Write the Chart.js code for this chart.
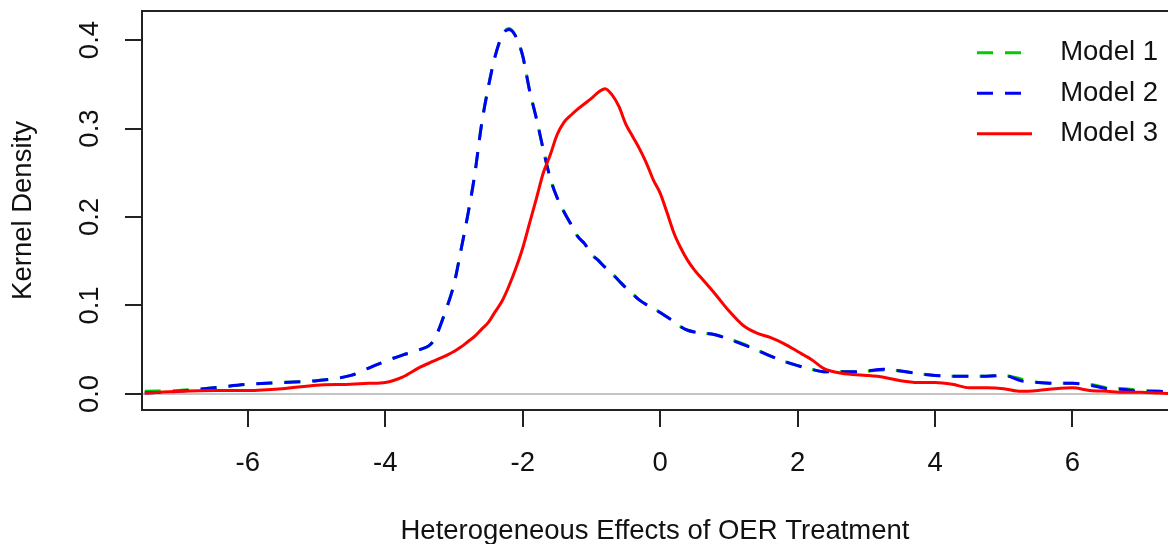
<!DOCTYPE html>
<html>
<head>
<meta charset="utf-8">
<script src="https://cdn.jsdelivr.net/npm/chart.js@4/dist/chart.umd.min.js"></script>
<style>
  html, body { margin: 0; padding: 0; background: #fff; overflow: hidden; }
  #wrap { width: 1168px; height: 544px; }
</style>
</head>
<body>
<div id="wrap"><canvas id="grafico" width="1168" height="544"></canvas></div>
<script>
// puntos x (grilla comun para las tres curvas)
const xGrid = [
  -7.5, -7.0, -6.5, -6.0, -5.5, -5.0, -4.5, -4.25, -4.0, -3.75, -3.5, -3.3, -3.1,
  -3.0, -2.9, -2.8, -2.7, -2.6, -2.5, -2.4, -2.3, -2.2, -2.1, -2.0, -1.9, -1.8,
  -1.7, -1.6, -1.5, -1.4, -1.3, -1.2, -1.1, -1.0, -0.9, -0.8, -0.7, -0.6, -0.5,
  -0.4, -0.3, -0.2, -0.1, 0.0, 0.1, 0.2, 0.3, 0.4, 0.5, 0.6, 0.8, 1.0, 1.2, 1.4,
  1.6, 1.8, 2.0, 2.2, 2.4, 2.6, 2.8, 3.0, 3.25, 3.5, 3.75, 4.0, 4.25, 4.5, 4.75,
  5.0, 5.25, 5.5, 5.75, 6.0, 6.25, 6.5, 6.75, 7.0, 7.25, 7.5
];

const model1 = [
  0.003, 0.004, 0.007, 0.011, 0.013, 0.015, 0.021, 0.029, 0.037, 0.044, 0.050, 0.060, 0.099,
  0.124, 0.162, 0.202, 0.247, 0.304, 0.347, 0.382, 0.405, 0.413, 0.404, 0.382, 0.343, 0.311,
  0.276, 0.244, 0.222, 0.206, 0.192, 0.178, 0.170, 0.158, 0.151, 0.143, 0.136, 0.128, 0.120,
  0.113, 0.106, 0.101, 0.097, 0.092, 0.087, 0.082, 0.076, 0.072, 0.070, 0.069, 0.067, 0.062, 0.057, 0.050,
  0.043, 0.037, 0.032, 0.028, 0.025, 0.025, 0.025, 0.026, 0.027, 0.026, 0.023, 0.021, 0.020, 0.020, 0.020,
  0.021, 0.017, 0.013, 0.012, 0.012, 0.011, 0.007, 0.006, 0.004, 0.003, 0.002
];

const model2 = [
  0.001, 0.003, 0.007, 0.011, 0.013, 0.015, 0.021, 0.029, 0.037, 0.044, 0.050, 0.060, 0.099,
  0.124, 0.162, 0.202, 0.247, 0.304, 0.347, 0.382, 0.405, 0.412, 0.404, 0.382, 0.343, 0.311,
  0.276, 0.244, 0.222, 0.206, 0.192, 0.178, 0.170, 0.158, 0.151, 0.143, 0.136, 0.128, 0.120,
  0.113, 0.106, 0.101, 0.097, 0.092, 0.087, 0.082, 0.076, 0.072, 0.070, 0.069, 0.067, 0.062, 0.056, 0.050,
  0.043, 0.037, 0.032, 0.028, 0.025, 0.025, 0.025, 0.026, 0.028, 0.026, 0.023, 0.021, 0.020, 0.020, 0.020,
  0.021, 0.015, 0.013, 0.012, 0.012, 0.010, 0.006, 0.005, 0.003, 0.003, 0.002
];

const model3 = [
  0.001, 0.003, 0.004, 0.004, 0.006, 0.010, 0.011, 0.012, 0.013, 0.019, 0.030, 0.037, 0.044,
  0.048, 0.053, 0.059, 0.065, 0.073, 0.081, 0.093, 0.105, 0.122, 0.142, 0.165, 0.193, 0.221,
  0.250, 0.270, 0.293, 0.307, 0.315, 0.322, 0.328, 0.334, 0.341, 0.345, 0.338, 0.325, 0.305,
  0.291, 0.277, 0.261, 0.242, 0.227, 0.205, 0.182, 0.165, 0.151, 0.140, 0.131, 0.113, 0.094, 0.078, 0.069,
  0.064, 0.057, 0.048, 0.039, 0.028, 0.024, 0.022, 0.021, 0.019, 0.015, 0.013, 0.013, 0.011, 0.007, 0.007,
  0.006, 0.003, 0.004, 0.006, 0.007, 0.004, 0.003, 0.002, 0.002, 0.001, 0.000
];

const nombres = ['Model 1', 'Model 2', 'Model 3'];
const colores = ['#00cd00', '#0000ff', '#ff0000'];

const fuente = { family: '"Liberation Sans", Arial, sans-serif', size: 27.5 };
const colorTexto = '#111';
const colorEjes = '#222';

function puntos(serie) {
  return xGrid.map((x, i) => ({ x: x, y: serie[i] }));
}

// la leyenda va dentro del area del grafico, arriba a la derecha
const leyendaDentro = {
  id: 'leyendaDentro',
  beforeInit(chart) {
    const lg = chart.legend;
    const fitOriginal = lg.fit;
    lg.fit = function () {
      fitOriginal.call(this);
      this.width = 0;
    };
  },
  afterLayout(chart) {
    const lg = chart.legend;
    lg.left = 964;
    lg.right = 1158;
    lg.top = 26;
    lg.bottom = 220;
    lg.width = lg.right - lg.left;
    lg.height = lg.bottom - lg.top;
  }
};

// borde superior de la caja
const bordeArriba = {
  id: 'bordeArriba',
  afterDatasetsDraw(chart) {
    const { ctx, chartArea: a } = chart;
    ctx.save();
    ctx.strokeStyle = colorEjes;
    ctx.lineWidth = 2;
    ctx.beginPath();
    ctx.moveTo(a.left, a.top);
    ctx.lineTo(a.right, a.top);
    ctx.stroke();
    ctx.restore();
  }
};

const ctx = document.getElementById('grafico').getContext('2d');
new Chart(ctx, {
  type: 'line',
  data: {
    datasets: [
      { label: nombres[0], data: puntos(model1), borderColor: colores[0], borderDash: [16, 12], order: 3 },
      { label: nombres[1], data: puntos(model2), borderColor: colores[1], borderDash: [16, 12], order: 2 },
      { label: nombres[2], data: puntos(model3), borderColor: colores[2], borderDash: [], order: 1 }
    ]
  },
  options: {
    responsive: false,
    animation: false,
    devicePixelRatio: 1,
    layout: { padding: { top: 11, right: 0, bottom: 0, left: 0 } },
    elements: {
      line: { borderWidth: 3, fill: false, cubicInterpolationMode: 'monotone' },
      point: { radius: 0, hoverRadius: 0 }
    },
    plugins: {
      tooltip: { enabled: false },
      legend: {
        display: true,
        position: 'right',
        align: 'start',
        labels: {
          font: fuente,
          color: colorTexto,
          usePointStyle: true,
          pointStyleWidth: 55,
          padding: 13,
          textAlign: 'right',
          generateLabels: chart => chart.data.datasets.map((d, i) => ({
            text: d.label,
            fillStyle: d.borderColor,
            strokeStyle: d.borderColor,
            lineWidth: 3,
            lineDash: d.borderDash,
            pointStyle: 'line',
            rotation: 180,
            fontColor: colorTexto,
            textAlign: 'right',
            hidden: false,
            datasetIndex: i
          }))
        }
      }
    },
    scales: {
      x: {
        type: 'linear',
        min: -7.54,
        max: 7.39,
        afterFit: s => { s.height = 134; s.paddingLeft = 0; s.paddingRight = 0; },
        border: { display: true, color: colorEjes, width: 2 },
        grid: { drawOnChartArea: false, drawTicks: true, tickLength: 17, tickColor: colorEjes, lineWidth: 2 },
        ticks: {
          stepSize: 2, includeBounds: false, autoSkip: false, maxRotation: 0,
          padding: 20, font: fuente, color: colorTexto,
          callback: v => String(v)
        },
        title: {
          display: true, text: 'Heterogeneous Effects of OER Treatment',
          font: fuente, color: colorTexto, padding: { top: 0, bottom: -4 }
        }
      },
      y: {
        min: -0.0181,
        max: 0.4328,
        afterFit: s => { s.width = 142; s.paddingTop = 0; s.paddingBottom = 0; },
        border: { display: true, color: colorEjes, width: 2 },
        grid: {
          color: c => (c.tick && Math.abs(c.tick.value) < 1e-9) ? '#c4c4c4' : 'rgba(0,0,0,0)',
          lineWidth: 2, tickColor: colorEjes, tickLength: 17, drawTicks: true
        },
        ticks: {
          stepSize: 0.1, includeBounds: false, autoSkip: false,
          minRotation: 90, maxRotation: 90, crossAlign: 'center',
          padding: 15, font: fuente, color: colorTexto,
          callback: v => v.toFixed(1)
        },
        title: {
          display: true, text: 'Kernel Density',
          font: fuente, color: colorTexto, padding: { top: 6.5, bottom: 0 }
        }
      }
    }
  },
  plugins: [leyendaDentro, bordeArriba]
});
</script>
</body>
</html>
